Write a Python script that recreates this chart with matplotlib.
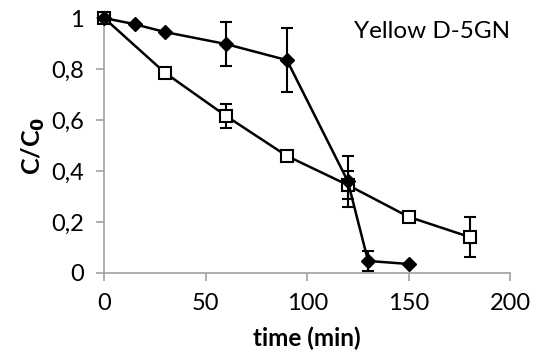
import matplotlib
matplotlib.use("Agg")
import matplotlib.pyplot as plt
from matplotlib.ticker import FuncFormatter

plt.rcParams['font.family'] = ['Lato', 'DejaVu Sans']

# diamond series
t_dia = [0, 15, 30, 60, 90, 120, 130, 150]
c_dia = [1.0, 0.976, 0.945, 0.898, 0.835, 0.36, 0.047, 0.035]
e_dia = [0, 0, 0, 0.085, 0.125, 0.10, 0.04, 0.0]

# square series
t_sq = [0, 30, 60, 90, 120, 150, 180]
c_sq = [1.0, 0.785, 0.616, 0.459, 0.345, 0.22, 0.141]
e_sq = [0, 0, 0.047, 0, 0.055, 0, 0.08]

fig = plt.figure(figsize=(5.37, 3.61), dpi=100)
ax = fig.add_axes([0.194, 0.244, 0.756, 0.706])

sq = ax.errorbar(t_sq, c_sq, yerr=e_sq, color='black', lw=1.8, marker='s', ms=9,
                 mfc='white', mec='black', mew=1.5, capsize=4, elinewidth=1.5,
                 capthick=1.5, zorder=2)
dia = ax.errorbar(t_dia, c_dia, yerr=e_dia, color='black', lw=1.8, marker='D', ms=7.5,
                  mfc='black', mec='black', capsize=4, elinewidth=1.5,
                  capthick=1.5, zorder=3)
for container in (sq, dia):
    for artist in container.get_children():
        artist.set_clip_on(False)

ax.set_xlim(0, 200)
ax.set_ylim(0, 1)
ax.set_xticks([0, 50, 100, 150, 200])
ax.set_yticks([0, 0.2, 0.4, 0.6, 0.8, 1.0])
ax.yaxis.set_major_formatter(FuncFormatter(lambda v, p: ('%g' % round(v, 1)).replace('.', ',')))

for s in ['top', 'right']:
    ax.spines[s].set_visible(False)
for s in ['left', 'bottom']:
    ax.spines[s].set_color('#a0a0a0')
    ax.spines[s].set_linewidth(1.2)
ax.tick_params(colors='#a0a0a0', labelcolor='black', labelsize=17, length=6, width=1.2, pad=8.5)

ax.set_xlabel('time (min)', fontsize=17.5, fontweight='bold', labelpad=9)
ax.set_ylabel('C/C$_\\mathbf{0}$', fontsize=18, fontweight='bold', labelpad=3)
ax.text(1.0, 0.99, 'Yellow D-5GN', transform=ax.transAxes, ha='right', va='top', fontsize=17.5)

fig.savefig('out.png', dpi=100)
